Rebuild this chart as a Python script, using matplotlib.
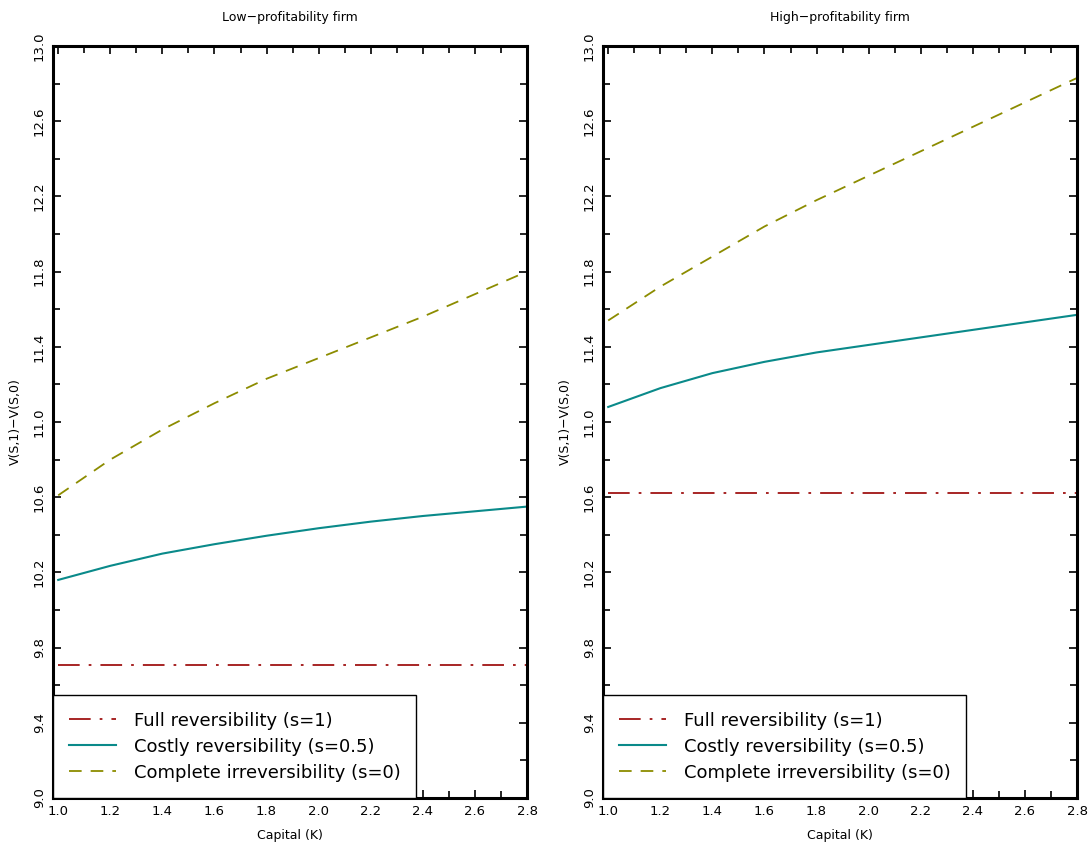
import numpy as np
import matplotlib
matplotlib.use("Agg")
import matplotlib.pyplot as plt
from matplotlib.ticker import MultipleLocator, FixedLocator

# capital grid
capital = [1.0, 1.2, 1.4, 1.6, 1.8, 2.0, 2.2, 2.4, 2.6, 2.8]

# low-profitability firm
low_full = [9.71] * len(capital)
low_costly = [10.16, 10.235, 10.30, 10.35, 10.395, 10.435, 10.47, 10.50, 10.525, 10.55]
low_irrev = [10.61, 10.80, 10.96, 11.10, 11.23, 11.34, 11.45, 11.56, 11.68, 11.80]

# high-profitability firm
high_full = [10.62] * len(capital)
high_costly = [11.08, 11.18, 11.26, 11.32, 11.37, 11.41, 11.45, 11.49, 11.53, 11.57]
high_irrev = [11.54, 11.72, 11.88, 12.04, 12.18, 12.31, 12.44, 12.57, 12.70, 12.83]

titles = ["Low\u2212profitability firm", "High\u2212profitability firm"]
labels = ["Full reversibility (s=1)", "Costly reversibility (s=0.5)",
          "Complete irreversibility (s=0)"]
y_ticks = [9.0, 9.4, 9.8, 10.2, 10.6, 11.0, 11.4, 11.8, 12.2, 12.6, 13.0]

RED = "#a01414"
TEAL = "#0a8a8a"
OLIVE = "#8c8c00"

plt.rcParams["font.family"] = ["DejaVu Sans"]

W, H = 1088, 848
fig = plt.figure(figsize=(W / 100, H / 100), dpi=100)

panels = [
    (53, titles[0], low_full, low_costly, low_irrev),
    (603, titles[1], high_full, high_costly, high_irrev),
]

for left_px, title, full, costly, irrev in panels:
    ax = fig.add_axes([left_px / W, 1 - 798 / H, 474 / W, 752 / H])
    ax.plot(capital, full, color=RED, lw=1.3, dashes=(12, 5, 1.5, 5), label=labels[0])
    ax.plot(capital, costly, color=TEAL, lw=1.5, label=labels[1])
    ax.plot(capital, irrev, color=OLIVE, lw=1.3, dashes=(7, 5), label=labels[2])

    ax.set_xlim(0.98, 2.8)
    ax.set_ylim(9.0, 13.0)
    ax.xaxis.set_major_locator(MultipleLocator(0.2))
    ax.xaxis.set_minor_locator(MultipleLocator(0.1))
    ax.yaxis.set_major_locator(FixedLocator(y_ticks))
    ax.yaxis.set_minor_locator(MultipleLocator(0.2))
    ax.xaxis.set_major_formatter(plt.FormatStrFormatter("%.1f"))
    ax.yaxis.set_major_formatter(plt.FormatStrFormatter("%.1f"))
    ax.tick_params(which="both", direction="in", top=True, right=True,
                   width=1.2, labelsize=9.5)
    ax.tick_params(which="major", length=6, pad=5)
    ax.tick_params(which="minor", length=5)
    for lab in ax.get_yticklabels():
        lab.set_rotation(90)
        lab.set_va("center")
    for s in ax.spines.values():
        s.set_linewidth(2.2)

    ax.set_title(title, fontsize=9, pad=18)
    ax.set_xlabel("Capital (K)", fontsize=9, labelpad=8)
    ax.set_ylabel("V(S,1)\u2212V(S,0)", fontsize=9, labelpad=8)

    leg = ax.legend(loc="lower left", bbox_to_anchor=(0.0, 0.0, 0.765, 0.14),
                    mode="expand", fontsize=13, frameon=True, fancybox=False,
                    handlelength=2.6, borderaxespad=0, borderpad=0.9,
                    labelspacing=0.45, handletextpad=1.0)
    leg.get_frame().set_edgecolor("black")
    leg.get_frame().set_linewidth(1.0)
    leg.get_frame().set_alpha(1)

fig.savefig("out.png", dpi=100, facecolor="white")
